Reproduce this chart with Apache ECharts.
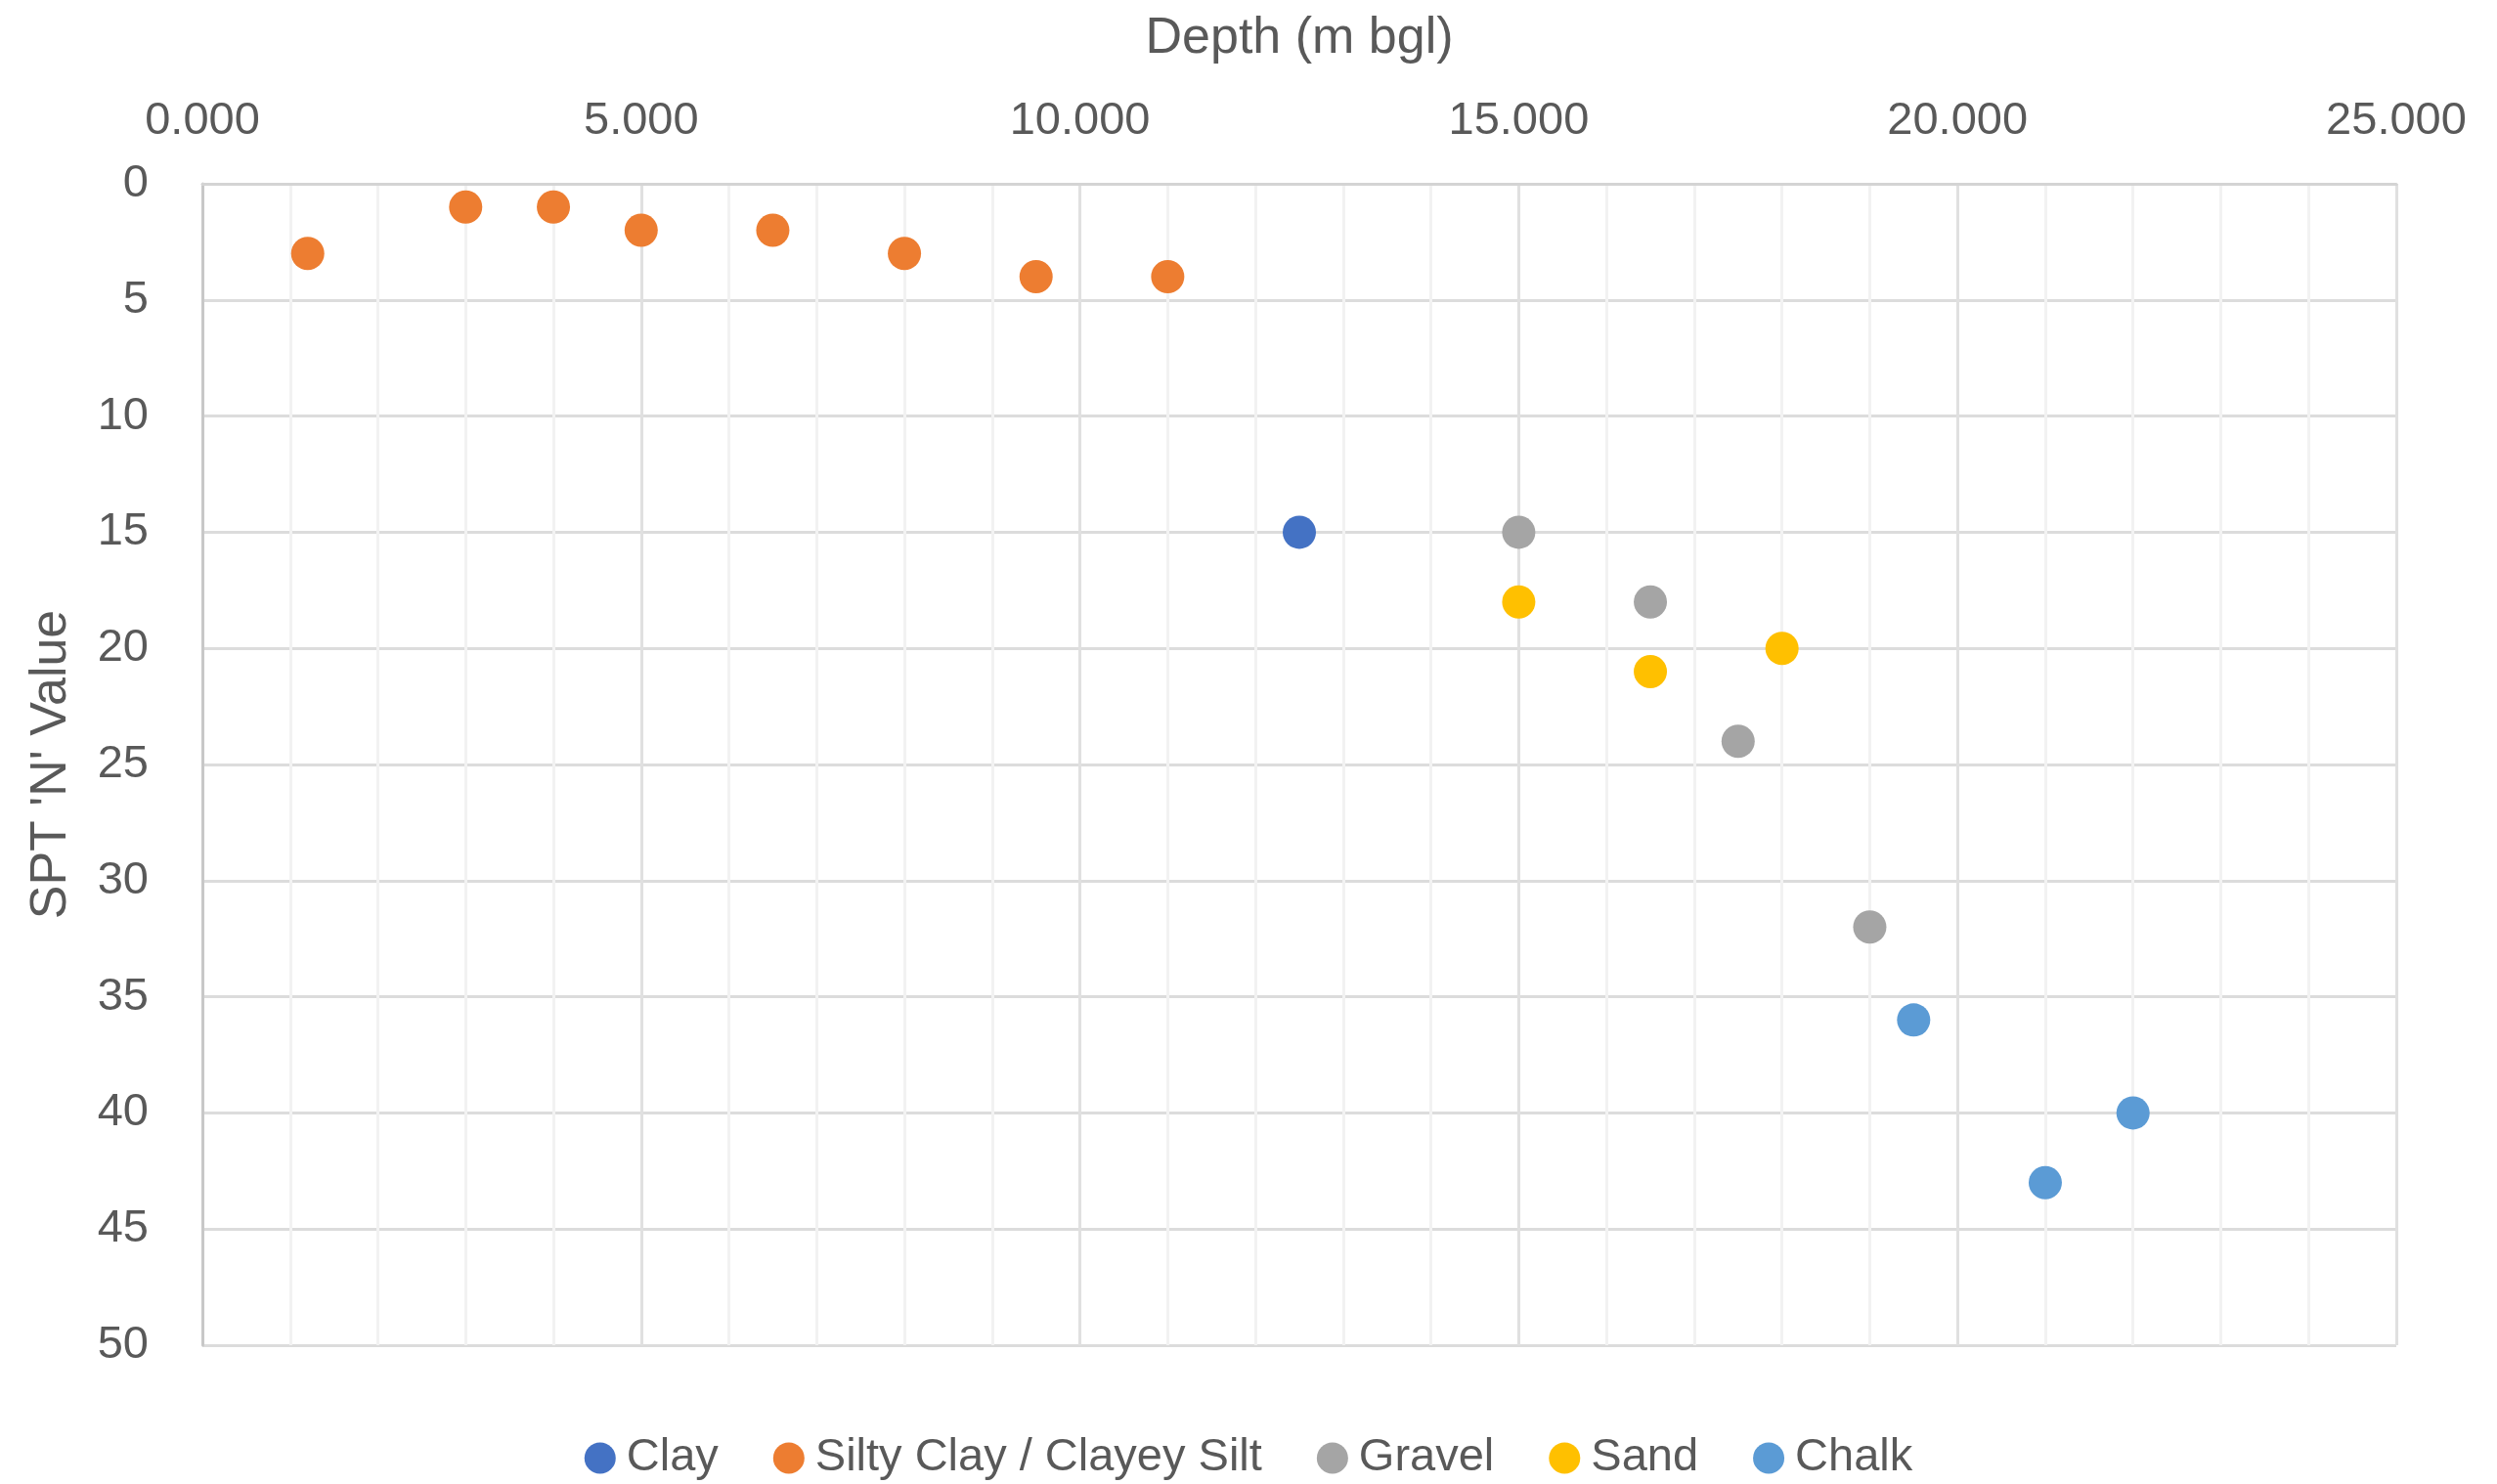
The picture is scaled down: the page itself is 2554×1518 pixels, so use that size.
<!DOCTYPE html>
<html>
<head>
<meta charset="utf-8">
<script src="https://cdn.jsdelivr.net/npm/echarts@6/dist/echarts.min.js"></script>
<style>
html,body{margin:0;padding:0;background:#fff;}
#chart{width:2554px;height:1518px;}
</style>
</head>
<body>
<div id="chart"></div>
<script>
// Data: [depth (m bgl), SPT 'N' value]
const seriesNames = ['Clay', 'Silty Clay / Clayey Silt', 'Gravel', 'Sand', 'Chalk'];
const clay = [[12.5, 15]];
const siltyClay = [[1.2, 3], [3, 1], [4, 1], [5, 2], [6.5, 2], [8, 3], [9.5, 4], [11, 4]];
const gravel = [[15, 15], [16.5, 18], [17.5, 24], [19, 32]];
const sand = [[15, 18], [16.5, 21], [18, 20]];
const chalk = [[19.5, 36], [22, 40], [21, 43]];
const xTicks = [0, 5, 10, 15, 20, 25];
const yTicks = [0, 5, 10, 15, 20, 25, 30, 35, 40, 45, 50];
const colors = ['#4472C4', '#ED7D31', '#A5A5A5', '#FFC000', '#5B9BD5'];
const allData = [clay, siltyClay, gravel, sand, chalk];

const FONT = '"Liberation Sans", Arial, sans-serif';
const TXT = '#595959';

const chart = echarts.init(document.getElementById('chart'));
chart.setOption({
  backgroundColor: '#fff',
  animation: false,
  grid: { left: 207, right: 103, top: 188, bottom: 142, containLabel: false },
  xAxis: {
    type: 'value',
    position: 'top',
    min: xTicks[0],
    max: xTicks[xTicks.length - 1],
    interval: 5,
    name: 'Depth (m bgl)',
    nameLocation: 'middle',
    nameGap: 122,
    nameTextStyle: { fontFamily: FONT, fontSize: 52, color: TXT },
    axisLine: { show: true, lineStyle: { color: '#d4d4d4', width: 3 } },
    axisTick: { show: false },
    axisLabel: {
      fontFamily: FONT, fontSize: 47, color: TXT, margin: 40,
      formatter: v => v.toFixed(3)
    },
    splitLine: { show: true, lineStyle: { color: '#e0e0e0', width: 3 } },
    minorTick: { show: false, splitNumber: 5 },
    minorSplitLine: { show: true, lineStyle: { color: '#f2f2f2', width: 3 } }
  },
  yAxis: {
    type: 'value',
    inverse: true,
    min: yTicks[0],
    max: yTicks[yTicks.length - 1],
    interval: 5,
    name: "SPT 'N' Value",
    nameLocation: 'middle',
    nameGap: 128,
    nameTextStyle: { fontFamily: FONT, fontSize: 52, color: TXT },
    axisLine: { show: true, lineStyle: { color: '#c8c8c8', width: 3 } },
    axisTick: { show: false },
    axisLabel: { fontFamily: FONT, fontSize: 47, color: TXT, margin: 55 },
    splitLine: { show: true, lineStyle: { color: '#dcdcdc', width: 3 } }
  },
  legend: {
    data: seriesNames,
    left: 'center',
    top: 1463,
    itemWidth: 32,
    itemHeight: 32,
    itemGap: 56,
    icon: 'circle',
    textStyle: { fontFamily: FONT, fontSize: 47, color: TXT, padding: [0, 0, 0, 6] }
  },
  series: seriesNames.map((n, i) => ({
    name: n,
    type: 'scatter',
    data: allData[i],
    symbol: 'circle',
    symbolSize: 34,
    itemStyle: { color: colors[i], opacity: 1 },
    z: 5
  }))
});
</script>
</body>
</html>
